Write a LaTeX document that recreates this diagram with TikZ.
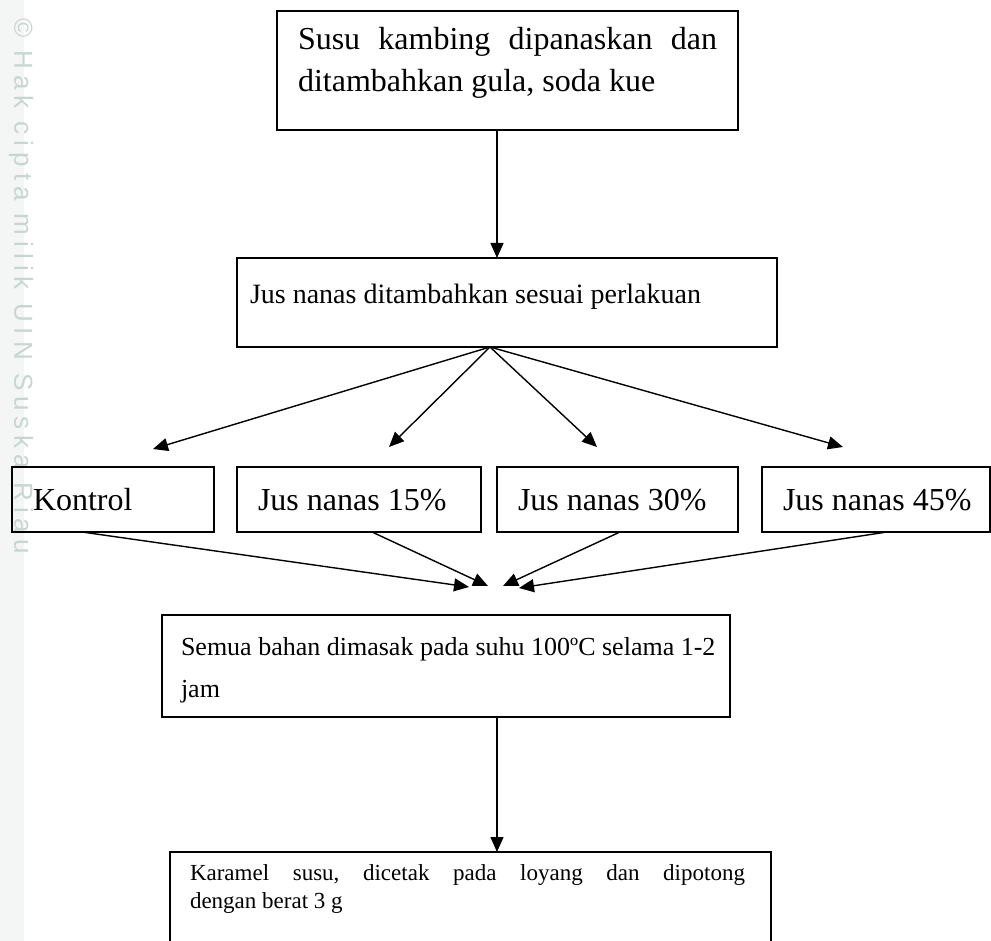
\documentclass[tikz,border=0pt]{standalone}
\usepackage{fontspec}
\setmainfont{Liberation Serif}
\newfontfamily\wmfont[LetterSpace=23]{Liberation Sans}
\usetikzlibrary{arrows.meta,calc}
\definecolor{wmtext}{HTML}{C8D6D2}
\definecolor{wmstrip}{HTML}{F4F5F5}
\begin{document}
\begin{tikzpicture}[x=1pt,y=-1pt,
  box/.style={draw,line width=1.6pt,inner sep=0pt,outer sep=0pt},
  txt/.style={inner sep=0pt,outer sep=0pt,anchor=base west,font=\fontsize{32}{38}\selectfont},
  txtm/.style={inner sep=0pt,outer sep=0pt,anchor=base west,font=\fontsize{28}{34}\selectfont},
  txtb/.style={inner sep=0pt,outer sep=0pt,anchor=base west,font=\fontsize{26}{31}\selectfont},
  txts/.style={inner sep=0pt,outer sep=0pt,anchor=base west,font=\fontsize{23}{28}\selectfont},
  arr/.style={line width=1.4pt,-{Triangle[length=15pt,width=13pt]}}]
\useasboundingbox (0,0) rectangle (991,941);
\clip (0,0) rectangle (991,941);
% watermark strip
\fill[wmstrip] (0,0) rectangle (24,941);
\node[rotate=-90,anchor=west,inner sep=0pt,text=wmtext,font=\wmfont\fontsize{26}{30}\selectfont] (wm) at (21,18) {© Hak cipta milik UIN Suska Riau};
% boxes
\node[box,minimum width=461pt,minimum height=119pt] (b1) at (507.5,70.5) {};
\node[box,minimum width=540pt,minimum height=89pt] (b2) at (507,302.5) {};
\node[box,minimum width=202pt,minimum height=65pt] (k0) at (113,499.5) {};
\node[box,minimum width=244pt,minimum height=65pt] (k15) at (359,499.5) {};
\node[box,minimum width=241pt,minimum height=65pt] (k30) at (617.5,499.5) {};
\node[box,minimum width=228pt,minimum height=65pt] (k45) at (876,499.5) {};
\node[box,minimum width=568pt,minimum height=102pt] (b3) at (446,666) {};
\node[box,minimum width=601pt,minimum height=138pt] (b4) at (470.5,921) {};
% texts
\node[txt] (t1a) at (298,50) {\hbox to 419pt{Susu\hfill kambing\hfill dipanaskan\hfill dan}};
\node[txt] (t1b) at (298,92) {ditambahkan gula, soda kue};
\node[txtm] (t2) at (250,304) {Jus nanas ditambahkan sesuai perlakuan};
\node[txt] (tk0) at (33,510) {Kontrol};
\node[txt] (tk15) at (258,510) {Jus nanas 15\%};
\node[txt] (tk30) at (518,510) {Jus nanas 30\%};
\node[txt] (tk45) at (783,510) {Jus nanas 45\%};
\node[txtb] (t3a) at (181,655) {Semua bahan dimasak pada suhu 100ºC selama 1-2};
\node[txtb] (t3b) at (181,697) {jam};
\node[txts] (t4a) at (190,880) {\hbox to 555pt{Karamel\hfill susu,\hfill dicetak\hfill pada\hfill loyang\hfill dan\hfill dipotong}};
\node[txts] (t4b) at (190,908) {dengan berat 3 g};
% connector points
\coordinate (x1) at (497,0);
\coordinate (f0) at (490,347);
\coordinate (a0) at (153,449);
\coordinate (a15) at (389,447);
\coordinate (a30) at (597,447);
\coordinate (a45) at (843,447);
\coordinate (s0) at (82,532);
\coordinate (s15) at (372,532);
\coordinate (s30) at (620,532);
\coordinate (s45) at (887,532);
\coordinate (e0) at (469,587);
\coordinate (e15) at (488,586);
\coordinate (e30) at (503,586);
\coordinate (e45) at (519,588);
% connectors
\draw[arr] (b1.south -| x1) -- (b2.north -| x1);
\draw[arr] (f0) -- (a0);
\draw[arr] (f0) -- (a15);
\draw[arr] (f0) -- (a30);
\draw[arr] (f0) -- (a45);
\draw[arr] (s0) -- (e0);
\draw[arr] (s15) -- (e15);
\draw[arr] (s30) -- (e30);
\draw[arr] (s45) -- (e45);
\draw[arr] (b3.south -| x1) -- (b4.north -| x1);
\end{tikzpicture}
\end{document}
